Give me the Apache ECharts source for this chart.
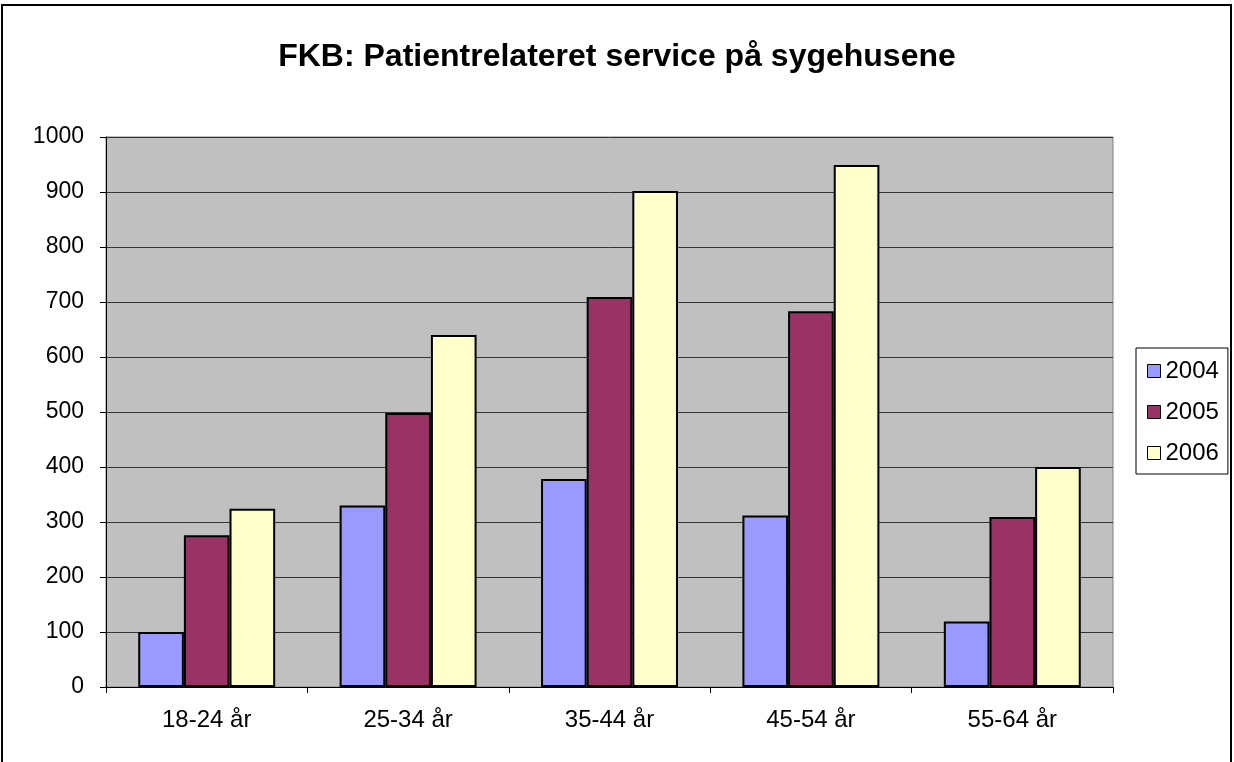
<!DOCTYPE html>
<html>
<head>
    <meta charset="UTF-8">
    <title>FKB</title>
    <script src="https://cdn.jsdelivr.net/npm/echarts@6/dist/echarts.min.js"></script>
    <style>
        html, body { margin: 0; padding: 0; background: #fff; }
        #main { width: 1234px; height: 762px; }
    </style>
</head>
<body>
<div id="main"></div>
<script type="text/javascript">

// aldersgrupper (x-akse)
var categories = ['18-24 år', '25-34 år', '35-44 år', '45-54 år', '55-64 år'];
// år / serier
var years = ['2004', '2005', '2006'];
var values2004 = [100, 330, 378, 312, 119];
var values2005 = [276, 498, 709, 683, 309];
var values2006 = [324, 640, 902, 949, 400];
var colors = ['#9999FF', '#993366', '#FFFFCC'];

var font = '"Liberation Sans", Arial, sans-serif';

var myChart = echarts.init(document.getElementById('main'));

function bar(name, data, color) {
    return {
        name: name,
        type: 'bar',
        data: data,
        barGap: '0%',
        barCategoryGap: '32%',
        itemStyle: { color: color, borderColor: '#000', borderWidth: 2 },
        emphasis: { disabled: true }
    };
}

var option = {
    animation: false,
    backgroundColor: '#fff',
    title: {
        text: 'FKB: Patientrelateret service på sygehusene',
        left: 'center',
        top: 36,
        textStyle: { fontFamily: font, fontSize: 32, fontWeight: 'bold', color: '#000' }
    },
    graphic: [{
        type: 'rect',
        shape: { x: 2, y: 5, width: 1229, height: 800 },
        style: { fill: null, stroke: '#000', lineWidth: 2 },
        silent: true
    }],
    legend: {
        orient: 'vertical',
        left: 1136,
        top: 348,
        data: years,
        icon: 'rect',
        itemWidth: 13,
        itemHeight: 13,
        itemGap: 17,
        padding: [11, 9, 9, 11],
        borderColor: '#000',
        borderWidth: 1,
        backgroundColor: '#fff',
        itemStyle: { borderColor: '#000', borderWidth: 1 },
        textStyle: { fontFamily: font, fontSize: 24, color: '#000' }
    },
    grid: {
        left: 106,
        right: 121,
        top: 137,
        bottom: 75,
        show: true,
        backgroundColor: '#C0C0C0',
        borderColor: '#808080',
        borderWidth: 1
    },
    xAxis: {
        type: 'category',
        data: categories,
        axisLine: { lineStyle: { color: '#000', width: 1 } },
        axisTick: { show: true, length: 6, lineStyle: { color: '#000' } },
        axisLabel: { fontFamily: font, fontSize: 24, color: '#000', margin: 21 }
    },
    yAxis: {
        type: 'value',
        min: 0,
        max: 1000,
        interval: 100,
        axisLine: { show: true, lineStyle: { color: '#000', width: 1 } },
        axisTick: { show: true, length: 6, lineStyle: { color: '#000' } },
        axisLabel: {
            fontFamily: font, fontSize: 23, color: '#000', margin: 22,
            formatter: function (v) { return String(v); }
        },
        splitLine: { lineStyle: { color: '#333', width: 1 } }
    },
    series: [
        bar(years[0], values2004, colors[0]),
        bar(years[1], values2005, colors[1]),
        bar(years[2], values2006, colors[2])
    ]
};

myChart.setOption(option);
</script>
</body>
</html>
